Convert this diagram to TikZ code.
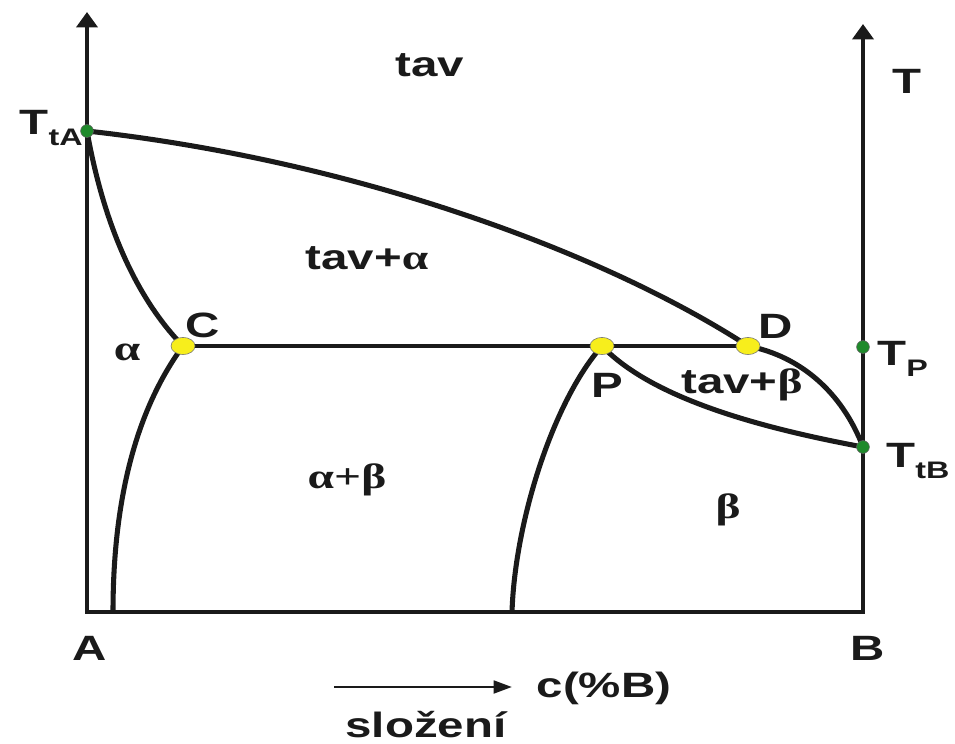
\documentclass[tikz,border=0pt]{standalone}
\usepackage{fontspec}
\setmainfont{Liberation Sans}[FakeStretch=1.35]
\newfontfamily\grkfont{Liberation Serif}[FakeStretch=1.35]
\usetikzlibrary{
arrows.meta,
positioning,
shapes.geometric
}
\definecolor{PDInk}{HTML}{1A1A1A}
\definecolor{PDYellow}{HTML}{F7EE1C}
\definecolor{PDGreen}{HTML}{1F8A2B}
\newcommand{\pdsub}[1]{\raisebox{-8pt}{\fontsize{17}{19}\selectfont #1}}
\tikzset{
pdaxis/.style={{Triangle[width=15pt,length=11pt]}-{Triangle[width=15pt,length=11pt]},
  line width=3pt, draw=PDInk, line join=miter},
pdcurve/.style={line width=3.6pt, draw=PDInk},
pdline/.style={line width=3pt, draw=PDInk},
pdarrow/.style={-{Triangle[width=9pt,length=13pt]}, line width=2pt, draw=PDInk},
pdyellow/.style={ellipse, draw=black!55, thin, fill=PDYellow,
  minimum width=0.6cm, minimum height=0.43cm, inner sep=0pt},
pdgreen/.style={circle, draw=black!60, thin, fill=PDGreen,
  minimum size=0.32cm, inner sep=0pt},
pdlabel/.style={font=\bfseries\fontsize{25}{29}\selectfont, text=PDInk, inner sep=0pt},
pdgreek/.style={font=\grkfont\bfseries\fontsize{25}{29}\selectfont, text=PDInk, inner sep=0pt}
}

\begin{document}
\begin{tikzpicture}[x=0.025cm, y=-0.025cm]
\useasboundingbox (0,0) rectangle (955,744);

% axes and frame
\coordinate (Atop) at (87,12);
\coordinate (Abot) at (87,612);
\coordinate (Bbot) at (863,612);
\coordinate (Btop) at (863,24);
\draw[pdaxis] (Atop) -- (Abot) -- (Bbot) -- (Btop);

% characteristic points
\coordinate (TtA) at (87,131);
\coordinate (TtB) at (863,447);
\coordinate (TP) at (863,347);
\coordinate (C) at (183,346);
\coordinate (P) at (602,346);
\coordinate (D) at (748,346);
\coordinate (sA) at (113,612);
\coordinate (sP) at (512,612);

% phase boundaries
\draw[pdcurve] (TtA) .. controls (350,160) and (600,250) .. (D)
  .. controls (800,356) and (842,392) .. (TtB);
\draw[pdcurve] (TtA) .. controls (105,232) and (140,302) .. (C);
\draw[pdline] (C) -- (D);
\draw[pdcurve] (C) .. controls (136,410) and (113,500) .. (sA);
\draw[pdcurve] (P) .. controls (554,400) and (515,520) .. (sP);
\draw[pdcurve] (P) .. controls (650,396) and (750,426) .. (TtB);

% dots
\node[pdgreen] (dTtA) at (TtA) {};
\node[pdgreen] (dTtB) at (TtB) {};
\node[pdgreen] (dTP) at (TP) {};
\node[pdyellow] (dC) at (C) {};
\node[pdyellow] (dP) at (P) {};
\node[pdyellow] (dD) at (D) {};

% labels
\node[pdlabel] (ltav) at (430,65) {tav};
\node[pdlabel] (lT) at (907,81) {T};
\node[pdlabel, anchor=base east] (lTtA) at (83,134) {T\pdsub{tA}};
\node[pdlabel] (ltava) at (367,258) {tav+{\grkfont α}};
\node[pdgreek] (la) at (127,352) {α};
\node[pdlabel] (lC) at (203,325) {C};
\node[pdlabel] (lD) at (776,326) {D};
\node[pdlabel] (lP) at (607,385) {P};
\node[pdlabel] (ltavb) at (742,385) {tav+{\grkfont β}};
\node[pdlabel, anchor=base west] (lTP) at (877,365) {T\pdsub{P}};
\node[pdlabel, anchor=base west] (lTtB) at (886,467) {T\pdsub{tB}};
\node[pdgreek] (lab) at (347,480) {α+β};
\node[pdgreek] (lb) at (728,510) {β};
\node[pdlabel] (lA) at (90,648) {A};
\node[pdlabel] (lB) at (868,648) {B};

% composition axis
\node[pdlabel] (lc) at (604,688) {c(\%B)};
\node[pdlabel] (lslo) at (426,725) {složení};
\coordinate (arrS) at (334,687);
\coordinate (arrE) at (512,687);
\draw[pdarrow] (arrS) -- (arrE);
\end{tikzpicture}
\end{document}
